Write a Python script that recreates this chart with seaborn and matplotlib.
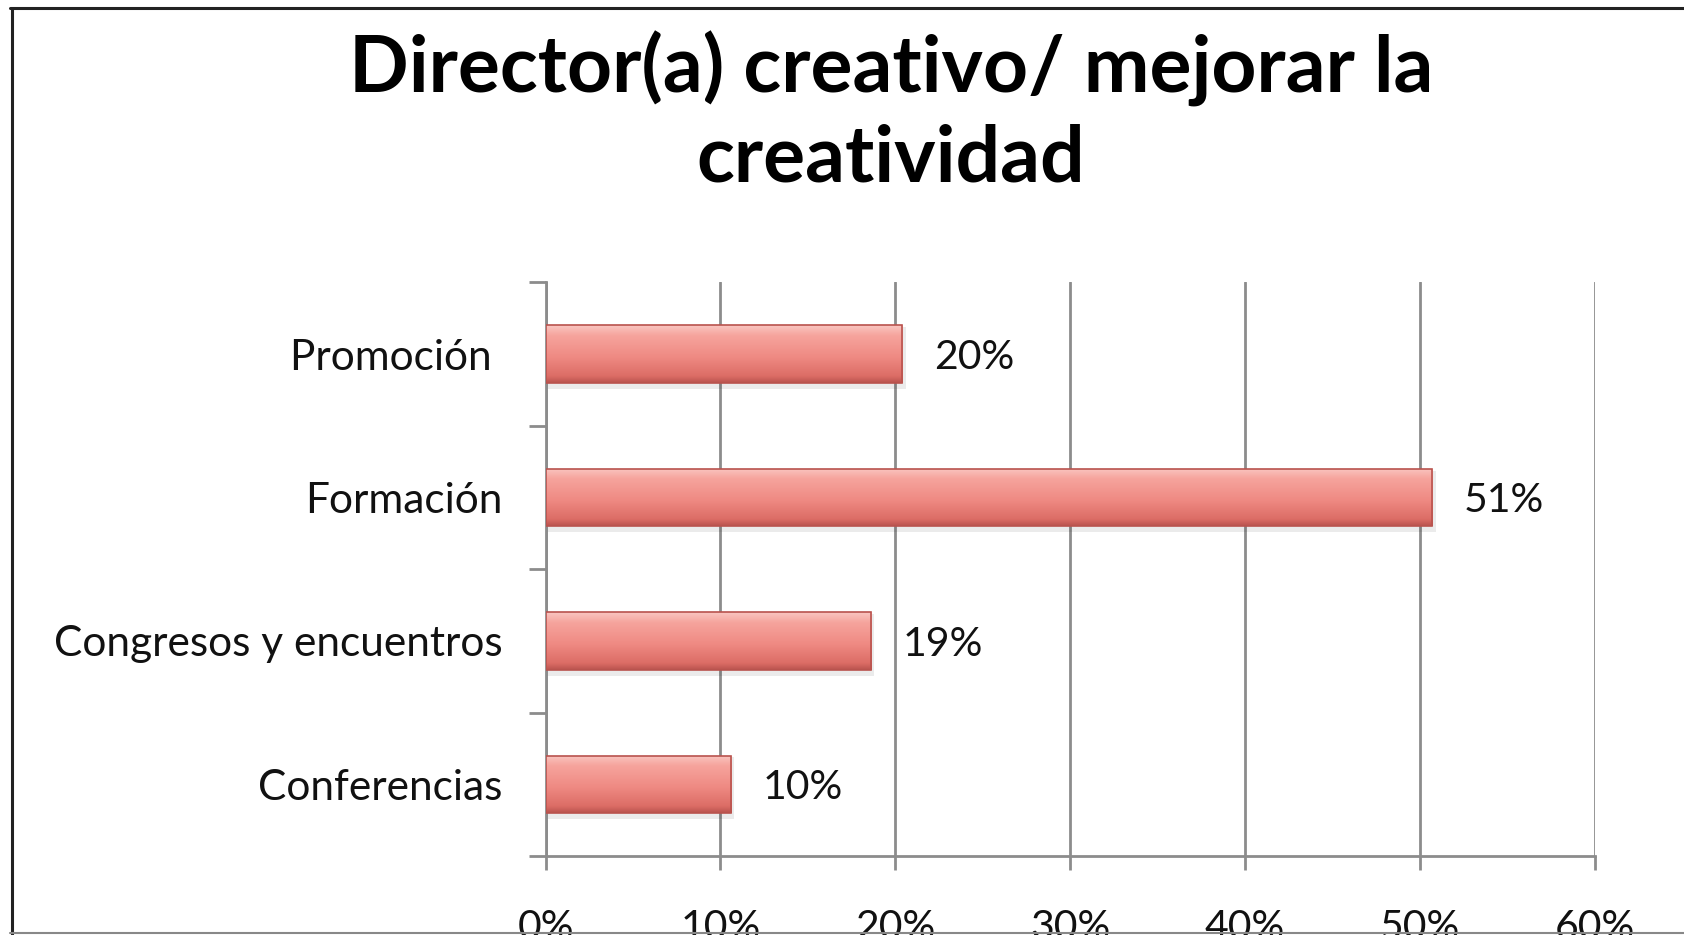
import numpy as np
import pandas as pd
import matplotlib
matplotlib.use("Agg")
import matplotlib.pyplot as plt
import seaborn as sns
from matplotlib.ticker import MultipleLocator, PercentFormatter
from matplotlib.lines import Line2D
from matplotlib.colors import LinearSegmentedColormap

categories = ["Promoción ", "Formación", "Congresos y encuentros", "Conferencias"]
values = [0.204, 0.507, 0.186, 0.106]
labels = ["20%", "51%", "19%", "10%"]
title = "Director(a) creativo/ mejorar la\ncreatividad"

sns.set_theme(style="white")
plt.rcParams["font.family"] = ["Lato", "DejaVu Sans"]

df = pd.DataFrame({"cat": categories, "val": values})

fig = plt.figure(figsize=(16.84, 9.35), dpi=100)
ax = fig.add_axes([0.324, 0.0845, 0.623, 0.6135])

sns.barplot(data=df, y="cat", x="val", orient="h", width=0.4,
            color="#EC7D76", edgecolor="#B9534E", linewidth=1.2, ax=ax, zorder=3)

grad = np.linspace(0, 1, 256).reshape(-1, 1)
cmap = LinearSegmentedColormap.from_list(
    "bar", [(0.0, "#F9C6C1"), (0.18, "#F6A49D"), (0.55, "#EF8A83"), (0.88, "#DC6D66"), (1.0, "#B9534E")])
for p in list(ax.patches):
    x0, y0 = p.get_x(), p.get_y()
    w, h = p.get_width(), p.get_height()
    ax.add_patch(plt.Rectangle((x0, y0 + h * 0.03), w + 0.002, h * 1.08,
                               facecolor="#000000", alpha=0.08, zorder=2, linewidth=0))
    im = ax.imshow(grad, extent=(x0, x0 + w, y0 + h, y0), aspect="auto",
                   cmap=cmap, zorder=3.5, interpolation="bicubic")
    im.set_clip_path(p)
    p.set_zorder(4)
    p.set_facecolor("none")

for p, lab in zip(ax.patches[:len(values)], labels):
    ax.text(p.get_width() + 0.018, p.get_y() + p.get_height() / 2, lab,
            va="center_baseline", ha="left", fontsize=29.5, color="#111111")

ax.set_xlim(0, 0.6)
ax.set_ylim(3.5, -0.5)
ax.xaxis.set_major_locator(MultipleLocator(0.1))
ax.xaxis.set_major_formatter(PercentFormatter(1.0, decimals=0))
ax.grid(axis="x", color="#8C8C8C", linewidth=2, zorder=0)
ax.grid(axis="y", visible=False)
for s in ["top", "right"]:
    ax.spines[s].set_visible(False)
for s in ["left", "bottom"]:
    ax.spines[s].set_color("#8C8C8C")
    ax.spines[s].set_linewidth(2)
ax.set_xlabel("")
ax.set_ylabel("")
ax.tick_params(axis="x", which="major", length=10, width=2, color="#8C8C8C",
               direction="out", pad=28, labelsize=29.5, labelcolor="#111111", bottom=True)
ax.set_yticks(range(len(categories)))
ax.set_yticklabels(categories, va="center_baseline")
ax.tick_params(axis="y", which="major", length=0, pad=31, labelsize=30.5, labelcolor="#111111")
ax.set_yticks(np.arange(-0.5, len(categories), 1.0), minor=True)
ax.tick_params(axis="y", which="minor", length=12, width=2, color="#8C8C8C", left=True)

fig.text(0.529, 0.879, title, ha="center", va="center", fontsize=56.5,
         fontweight="bold", color="#000000", linespacing=1.28)

fig.add_artist(Line2D([0.006, 1.0], [0.991, 0.991], color="#222222", linewidth=2.2))
fig.add_artist(Line2D([0.007, 0.007], [0.0, 0.991], color="#222222", linewidth=2.2))
fig.add_artist(Line2D([0.006, 1.0], [0.002, 0.002], color="#888888", linewidth=1.5))

fig.savefig("out.png", dpi=100)
